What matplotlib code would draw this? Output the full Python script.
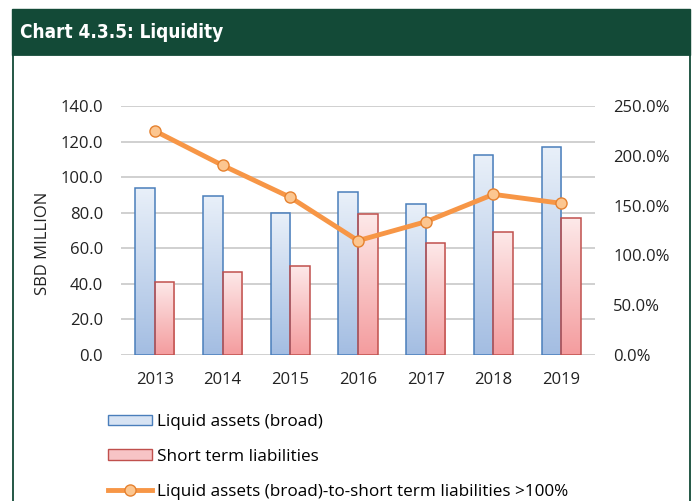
import matplotlib
matplotlib.use("Agg")
import matplotlib.pyplot as plt
import numpy as np
from matplotlib.patches import Rectangle, Patch
from matplotlib.lines import Line2D
from matplotlib.colors import LinearSegmentedColormap
from matplotlib.ticker import FuncFormatter

# data
years = ["2013", "2014", "2015", "2016", "2017", "2018", "2019"]
liquid_assets = [94.1, 89.6, 79.8, 91.5, 84.7, 112.3, 117.1]
short_term_liab = [41.2, 46.8, 50.2, 79.1, 62.8, 69.0, 76.9]
ratio_pct = [225.0, 190.4, 158.3, 114.8, 133.8, 161.3, 152.3]

left_ticks = [0, 20, 40, 60, 80, 100, 120, 140]
right_ticks = [0, 50, 100, 150, 200, 250]

GREEN = "#134a37"
BLUE_EDGE = "#4a7ebb"
RED_EDGE = "#c0504d"
ORANGE = "#f79646"

plt.rcParams['font.family'] = ['Open Sans', 'DejaVu Sans']

W, H = 696, 501
fig = plt.figure(figsize=(W / 100, H / 100), dpi=100)


def fx(px):
    return px / W


def fy(py):
    return 1 - py / H


# green header bar and frame (behind the axes)
fig.patches.append(Rectangle((fx(12), fy(55)), fx(690) - fx(12), fy(9) - fy(55),
                             transform=fig.transFigure, facecolor=GREEN,
                             edgecolor=GREEN, lw=1, zorder=-2))
fig.patches.append(Rectangle((fx(12.5), fy(520)), fx(689.5) - fx(12.5), fy(55) - fy(520),
                             transform=fig.transFigure, facecolor="white",
                             edgecolor=GREEN, lw=1.3, zorder=-2))
fig.text(fx(20), fy(33), "Chart 4.3.5: Liquidity", color="white",
         fontsize=13.6, fontweight="bold", fontstretch="condensed",
         family=["DejaVu Sans"], ha="left", va="center")

ax = fig.add_axes([fx(121), fy(355), fx(595) - fx(121), fy(106) - fy(355)])
ax.set_facecolor("none")
x = np.arange(len(years))
bw = 0.29

bars1 = ax.bar(x - bw / 2, liquid_assets, bw, facecolor="none",
               edgecolor=BLUE_EDGE, lw=1.1, zorder=3)
bars2 = ax.bar(x + bw / 2, short_term_liab, bw, facecolor="none",
               edgecolor=RED_EDGE, lw=1.1, zorder=3)

# vertical gradient fill inside every bar
grad = np.linspace(0, 1, 256).reshape(-1, 1)
cm_blue = LinearSegmentedColormap.from_list("b", ["#a3bde2", "#e9f0f9"])
cm_red = LinearSegmentedColormap.from_list("r", ["#f49c9e", "#fde9e9"])
for bars, cm in ((bars1, cm_blue), (bars2, cm_red)):
    for rect in bars:
        x0, w, h = rect.get_x(), rect.get_width(), rect.get_height()
        im = ax.imshow(grad, extent=[x0, x0 + w, 0, h], origin="lower",
                       aspect="auto", cmap=cm, zorder=2)
        im.set_clip_path(rect)

ax.set_xlim(-0.5, len(years) - 0.5)
ax.set_ylim(0, 140)
ax.set_yticks(left_ticks)
ax.yaxis.set_major_formatter(FuncFormatter(lambda v, p: f"{v:.1f}"))
ax.set_xticks(x)
ax.set_xticklabels(years)
ax.grid(axis="y", color="#c8c8c8", lw=1.2)
ax.set_axisbelow(True)
for s in ax.spines.values():
    s.set_visible(False)
ax.tick_params(axis="both", length=0, labelsize=12, colors="#222222")
ax.tick_params(axis="y", pad=13)
ax.tick_params(axis="x", pad=12)
ax.set_ylabel("SBD MILLION", fontsize=12, color="#222222")
ax.yaxis.set_label_coords((43 - 121) / 474, (355 - 243) / 249)
ax.yaxis.label.set_va("center")

ax2 = ax.twinx()
ax2.plot(x, ratio_pct, color=ORANGE, lw=3.5, marker="o", markersize=8,
         markerfacecolor="#fcc690", markeredgecolor="#e5812f", markeredgewidth=1,
         zorder=4)
ax2.set_ylim(0, 250)
ax2.set_yticks(right_ticks)
ax2.yaxis.set_major_formatter(FuncFormatter(lambda v, p: f"{v:.1f}%"))
for s in ax2.spines.values():
    s.set_visible(False)
ax2.tick_params(axis="y", length=0, labelsize=12, colors="#222222", pad=13)

handles = [
    Patch(facecolor="#d7e3f3", edgecolor=BLUE_EDGE, lw=1),
    Patch(facecolor="#f7c4c6", edgecolor=RED_EDGE, lw=1),
    Line2D([], [], color=ORANGE, lw=3.5, marker="o", markersize=8,
           markerfacecolor="#fcc690", markeredgecolor="#e5812f"),
]
labels = ["Liquid assets (broad)", "Short term liabilities",
          "Liquid assets (broad)-to-short term liabilities >100%"]
fig.legend(handles, labels, loc="upper left", bbox_to_anchor=(fx(108), fy(414)),
           frameon=False, fontsize=12.3, borderpad=0, borderaxespad=0,
           handlelength=2.55, handleheight=0.6, handletextpad=0.3,
           labelspacing=1.1)

fig.savefig("out.png", dpi=100)
